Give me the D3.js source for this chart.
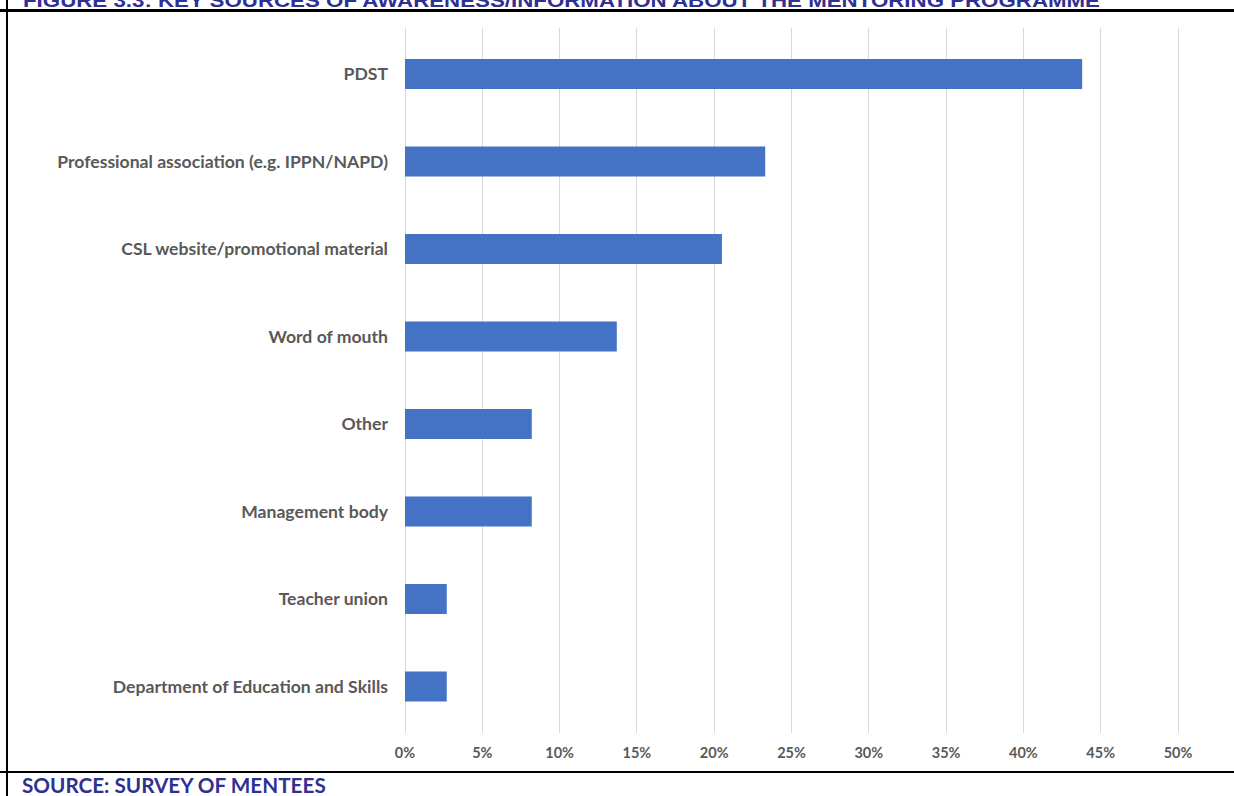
<!DOCTYPE html>
<html>
<head>
<meta charset="utf-8">
<script src="https://cdn.jsdelivr.net/npm/d3@7"></script>
<style>
  html, body { margin: 0; padding: 0; background: #fff; }
  svg { display: block; }
</style>
</head>
<body>
<svg id="chart" width="1234" height="796"></svg>
<script>
const categories = [
  "PDST",
  "Professional association (e.g. IPPN/NAPD)",
  "CSL website/promotional material",
  "Word of mouth",
  "Other",
  "Management body",
  "Teacher union",
  "Department of Education and Skills"
];
const values = [0.438, 0.233, 0.205, 0.137, 0.082, 0.082, 0.027, 0.027];
const tickValues = [0, 0.05, 0.10, 0.15, 0.20, 0.25, 0.30, 0.35, 0.40, 0.45, 0.50];
const titleText = "FIGURE 3.3: KEY SOURCES OF AWARENESS/INFORMATION ABOUT THE MENTORING PROGRAMME";
const sourceText = "SOURCE: SURVEY OF MENTEES";

const svg = d3.select("#chart");
const W = 1234, H = 796;

// title (clipped at top, as in the source image)
svg.append("text")
  .attr("x", 23).attr("y", 7)
  .attr("font-family", "Liberation Sans, Arial, sans-serif")
  .attr("font-weight", "bold")
  .attr("font-size", 19)
  .attr("fill", "#2E3192")
  .attr("textLength", 1077)
  .attr("lengthAdjust", "spacingAndGlyphs")
  .text(titleText);

// frame lines
svg.append("line").attr("x1", 0).attr("x2", W).attr("y1", 10.5).attr("y2", 10.5)
  .attr("stroke", "#000").attr("stroke-width", 3);
svg.append("line").attr("x1", 7).attr("x2", 7).attr("y1", 0).attr("y2", H)
  .attr("stroke", "#000").attr("stroke-width", 2);
svg.append("line").attr("x1", 0).attr("x2", W).attr("y1", 772).attr("y2", 772)
  .attr("stroke", "#000").attr("stroke-width", 2);

const x = d3.scaleLinear().domain([0, 0.5]).range([405, 1178]);
const y = d3.scaleBand().domain(categories).range([30.25, 730.25]).paddingInner(0.657).paddingOuter(0.3285);

// gridlines
svg.append("g").selectAll("line").data(tickValues).join("line")
  .attr("x1", d => x(d)).attr("x2", d => x(d))
  .attr("y1", 28).attr("y2", 733)
  .attr("stroke", "#d9d9d9").attr("stroke-width", 1)
  .attr("shape-rendering", "crispEdges");

// bars
svg.append("g").selectAll("rect").data(categories).join("rect")
  .attr("x", x(0))
  .attr("y", d => y(d))
  .attr("width", (d, i) => x(values[i]) - x(0))
  .attr("height", y.bandwidth())
  .attr("fill", "#4472C4");

// category labels
svg.append("g").selectAll("text").data(categories).join("text")
  .attr("x", 388)
  .attr("y", d => y(d) + y.bandwidth() / 2)
  .attr("dy", "0.35em")
  .attr("text-anchor", "end")
  .attr("font-family", "Lato, 'Open Sans', sans-serif")
  .attr("font-weight", "bold")
  .attr("font-size", 17.6)
  .attr("fill", "#595959")
  .text(d => d);

// x axis tick labels
svg.append("g").selectAll("text").data(tickValues).join("text")
  .attr("x", d => x(d))
  .attr("y", 753)
  .attr("dy", "0.35em")
  .attr("text-anchor", "middle")
  .attr("font-family", "Lato, 'Open Sans', sans-serif")
  .attr("font-weight", "bold")
  .attr("font-size", 14.5)
  .attr("fill", "#595959")
  .text(d => d3.format(".0%")(d));

// source
svg.append("text")
  .attr("x", 22).attr("y", 793)
  .attr("font-family", "Lato, 'Open Sans', sans-serif")
  .attr("font-weight", "bold")
  .attr("font-size", 20.7)
  .attr("fill", "#2E3192")
  .text(sourceText);
</script>
</body>
</html>
